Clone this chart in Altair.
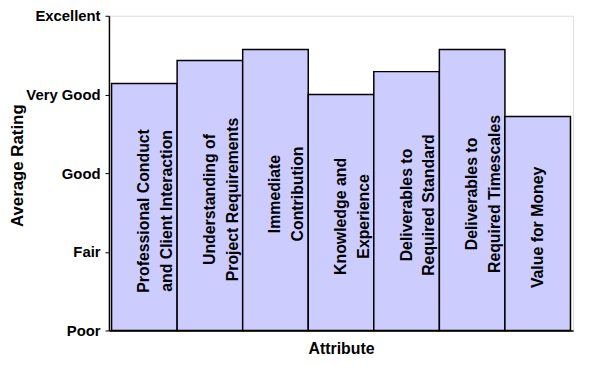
import altair as alt
import pandas as pd

attributes = [
    "Professional Conduct\nand Client Interaction",
    "Understanding of\nProject Requirements",
    "Immediate\nContribution",
    "Knowledge and\nExperience",
    "Deliverables to\nRequired Standard",
    "Deliverables to\nRequired Timescales",
    "Value for Money",
]
ratings = [4.14, 4.43, 4.57, 4.0, 4.29, 4.57, 3.72]
rating_levels = ["Poor", "Fair", "Good", "Very Good", "Excellent"]

df = pd.DataFrame({"attr": attributes, "rating": ratings})

FONT = "Liberation Sans"

x_enc = alt.X(
    "attr:N",
    sort=attributes,
    title="Attribute",
    scale=alt.Scale(paddingInner=0, paddingOuter=0.04),
    axis=alt.Axis(
        labels=False, ticks=False, domainColor="black", domainWidth=1.5,
        titleFont=FONT, titleFontSize=16, titleFontWeight="bold", titleColor="black",
        titlePadding=10,
    ),
)

label_expr = "[" + ",".join("'" + s + "'" for s in rating_levels) + "][datum.value-1]"

bars = alt.Chart(df).mark_bar(
    fill="#CCCCFF", stroke="black", strokeWidth=1.5
).encode(
    x=x_enc,
    y=alt.Y(
        "rating:Q",
        title="Average Rating",
        scale=alt.Scale(domain=[1, 5], nice=False, zero=False),
        axis=alt.Axis(
            values=[1, 2, 3, 4, 5],
            labelExpr=label_expr,
            grid=False, domainColor="black", domainWidth=1.5,
            tickColor="black", tickSize=4,
            labelFont=FONT, labelFontSize=15, labelFontWeight="bold", labelColor="black",
            labelPadding=5,
            titleFont=FONT, titleFontSize=17, titleFontWeight="bold", titleColor="black",
            titleX=-87, titleY=151, titleBaseline="alphabetic", titleAngle=270,
        ),
    ),
    y2=alt.datum(1),
)

labels = alt.Chart(df).transform_calculate(
    mid="(1 + datum.rating) / 2"
).mark_text(
    angle=270, align="center", baseline="middle", lineBreak="\n", lineHeight=23,
    font=FONT, fontSize=16, fontWeight="bold", color="black", dx=-4,
).encode(
    x=alt.X("attr:N", sort=attributes),
    y=alt.Y("mid:Q"),
    text="attr:N",
)

chart = (bars + labels).properties(
    width=469, height=318,
    autosize=alt.AutoSizeParams(type="none"),
    padding={"left": 102, "top": 6, "right": 10, "bottom": 30},
).configure_view(
    fill="#C0C0C0", stroke="#808080", strokeWidth=1
).configure(background="white")

chart.save("out.html", embed_options={"renderer": "svg", "actions": False})
